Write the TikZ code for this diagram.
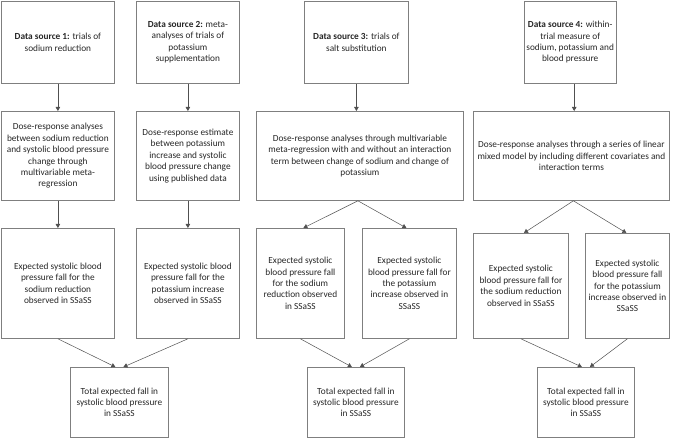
\documentclass[tikz,border=0pt]{standalone}
\usepackage{fontspec}
\setmainfont{Carlito}
\usetikzlibrary{arrows.meta}
\definecolor{boxgray}{HTML}{7F7F7F}
\definecolor{linegray}{HTML}{505050}
\tikzset{
  box/.style={draw=boxgray, line width=0.8pt, rectangle, anchor=north west, inner sep=2pt,
    align=center, font=\fontsize{9.3pt}{11.4pt}\selectfont, text=black!85},
  conn/.style={draw=linegray, line width=0.5pt, -{Triangle[width=4.5pt,length=4pt]}, shorten >=0pt}
}
\begin{document}
\begin{tikzpicture}[x=1pt,y=-1pt]
\useasboundingbox (0,0) rectangle (675,438);
% row 1
\node[box, minimum width=113pt, minimum height=82pt] (ds1) at (1,1) {\textbf{Data source 1:} trials of\\sodium reduction};
\node[box, minimum width=103pt, minimum height=82pt] (ds2) at (136,1) {\textbf{Data source 2:} meta-\\analyses of trials of\\potassium\\supplementation};
\node[box, minimum width=104pt, minimum height=82pt] (ds3) at (304,1) {\textbf{Data source 3:} trials of\\salt substitution};
\node[box, minimum width=89pt, minimum height=82pt] (ds4) at (524,1) {\textbf{Data source 4:} within-\\trial measure of\\sodium, potassium and\\blood pressure};
% row 2
\node[box, minimum width=113pt, minimum height=89pt] (do1) at (1,111) {Dose-response analyses\\between sodium reduction\\and systolic blood pressure\\change through\\multivariable meta-\\regression};
\node[box, minimum width=103pt, minimum height=89pt] (do2) at (136,111) {Dose-response estimate\\between potassium\\increase and systolic\\blood pressure change\\using published data};
\node[box, minimum width=207pt, minimum height=89pt] (do3) at (256,111) {Dose-response analyses through multivariable\\meta-regression with and without an interaction\\term between change of sodium and change of\\potassium};
\node[box, minimum width=196pt, minimum height=89pt] (do4) at (473,111) {Dose-response analyses through a series of linear\\mixed model by including different covariates and\\interaction terms};
% row 3
\node[box, minimum width=113pt, minimum height=110pt] (ex1) at (1,228) {Expected systolic blood\\pressure fall for the\\sodium reduction\\observed in SSaSS};
\node[box, minimum width=103pt, minimum height=110pt] (ex2) at (136,228) {Expected systolic blood\\pressure fall for the\\potassium increase\\observed in SSaSS};
\node[box, minimum width=88pt, minimum height=110pt] (ex3a) at (256,228) {Expected systolic\\blood pressure fall\\for the sodium\\reduction observed\\in SSaSS};
\node[box, minimum width=94pt, minimum height=110pt] (ex3b) at (362,228) {Expected systolic\\blood pressure fall for\\the potassium\\increase observed in\\SSaSS};
\node[box, minimum width=95pt, minimum height=105pt] (ex4a) at (473,233) {Expected systolic\\blood pressure fall for\\the sodium reduction\\observed in SSaSS};
\node[box, minimum width=84pt, minimum height=105pt] (ex4b) at (585,233) {Expected systolic\\blood pressure fall\\for the potassium\\increase observed in\\SSaSS};
% row 4
\node[box, minimum width=98pt, minimum height=70pt] (to1) at (70,367) {Total expected fall in\\systolic blood pressure\\in SSaSS};
\node[box, minimum width=97pt, minimum height=70pt] (to3) at (307,367) {Total expected fall in\\systolic blood pressure\\in SSaSS};
\node[box, minimum width=97pt, minimum height=70pt] (to4) at (537,367) {Total expected fall in\\systolic blood pressure\\in SSaSS};
% connectors
\draw[conn] (ds1.south) -- (do1.north);
\draw[conn] (ds2.south) -- (do2.north);
\draw[conn] (ds3.south) -- (ds3.south |- do3.north);
\draw[conn] ([xshift=4pt]ds4.south) -- ([xshift=4pt]ds4.south |- do4.north);
\draw[conn] (do1.south) -- (ex1.north);
\draw[conn] (do2.south) -- (ex2.north);
\draw[conn] ([xshift=-2pt]do3.south) -- ([xshift=3pt]ex3a.north);
\draw[conn] ([xshift=-2pt]do3.south) -- ([xshift=-3pt]ex3b.north);
\draw[conn] ([xshift=2pt]do4.south) -- ([xshift=3pt]ex4a.north);
\draw[conn] ([xshift=2pt]do4.south) -- ([xshift=-1pt]ex4b.north);
\draw[conn] (ex1.south) -- ([xshift=-4pt]to1.north);
\draw[conn] (ex2.south) -- ([xshift=4pt]to1.north);
\draw[conn] (ex3a.south) -- ([xshift=-4pt]to3.north);
\draw[conn] (ex3b.south) -- ([xshift=4pt]to3.north);
\draw[conn] (ex4a.south) -- ([xshift=-4pt]to4.north);
\draw[conn] (ex4b.south) -- ([xshift=4pt]to4.north);
\end{tikzpicture}
\end{document}
